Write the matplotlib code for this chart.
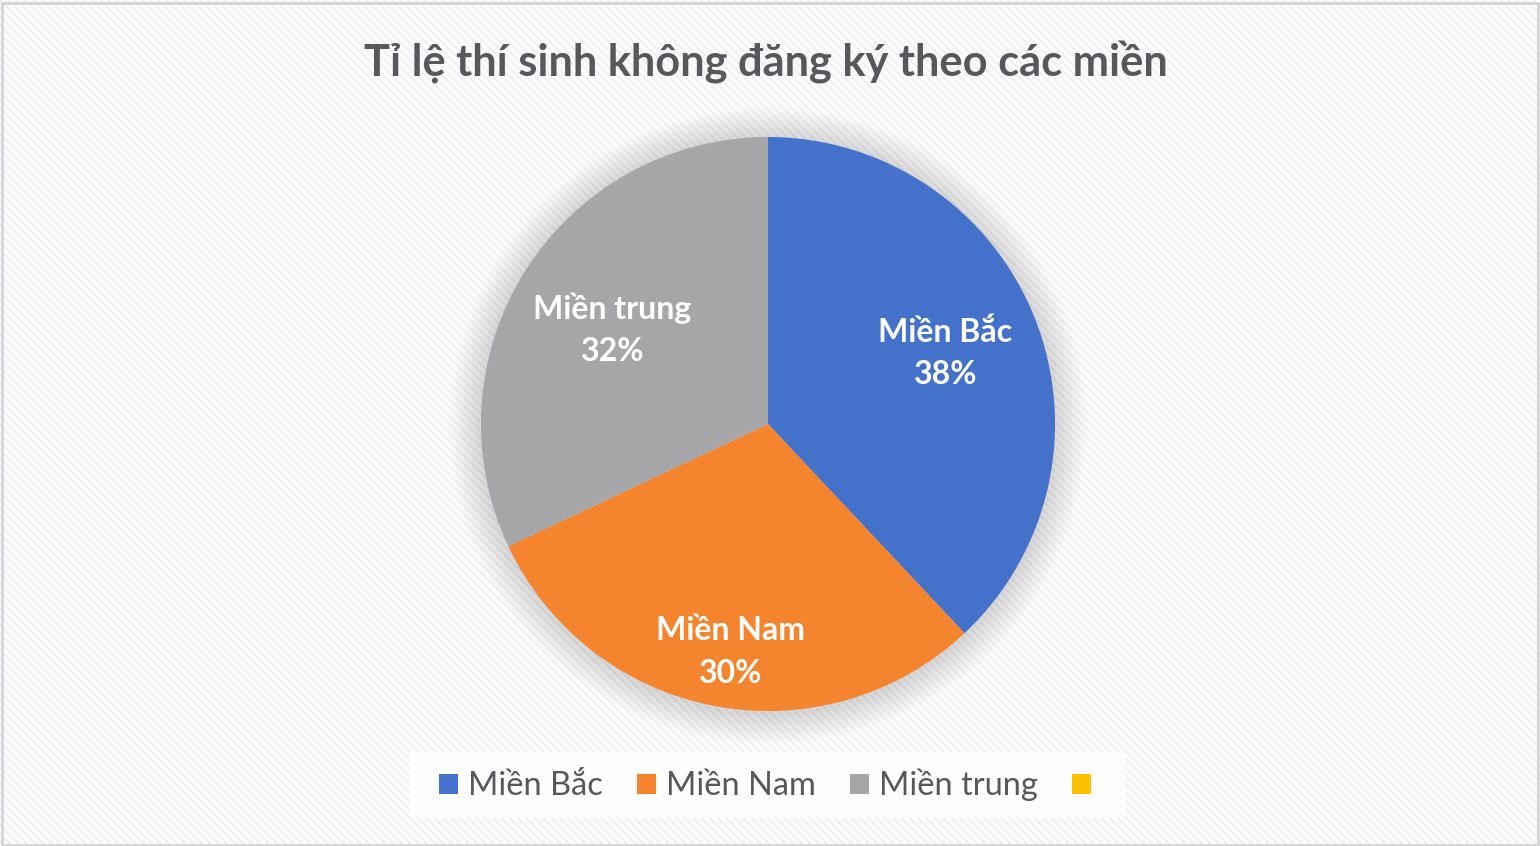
import numpy as np
import matplotlib
matplotlib.use("Agg")
import matplotlib.pyplot as plt
from matplotlib.patches import Rectangle, Circle, Patch

plt.rcParams['font.family'] = ['Lato', 'Open Sans', 'DejaVu Sans']
plt.rcParams['hatch.linewidth'] = 1.2

# data
regions = ["Miền Bắc", "Miền Nam", "Miền trung"]
shares = [38, 30, 32]
colors = ["#4472CA", "#F5842F", "#A6A5A8"]
legend_labels = ["Miền Bắc", "Miền Nam", "Miền trung", ""]
legend_colors = ["#4472CA", "#F5842F", "#A6A5A8", "#FFC000"]
title = "Tỉ lệ thí sinh không đăng ký theo các miền"

W, H = 1540, 846
fig = plt.figure(figsize=(W / 100, H / 100), dpi=100)
fig.patch.set_facecolor("#fbfbfc")

# striped background + thin border
fig.patches.append(Rectangle((0, 0), 1, 1, transform=fig.transFigure, facecolor="#fbfbfc",
                             edgecolor="#eeeef1", hatch="\\\\\\\\", lw=0, zorder=-10))
fig.patches.append(Rectangle((0.001, 0.001), 0.998, 0.996, transform=fig.transFigure, fill=False,
                             edgecolor="#d4d4d8", lw=2, zorder=-5))
# white legend box
fig.patches.append(Rectangle((410 / W, (H - 818) / H), 715 / W, 66 / H, transform=fig.transFigure,
                             facecolor="white", alpha=0.85, lw=0, zorder=-4))

# pie axes: centre (768, 424) px, radius 287 px
cx, cy, r = 768, 424, 287
ax = fig.add_axes([(cx - r) / W, (H - cy - r) / H, 2 * r / W, 2 * r / H])
ax.set_facecolor("none")

# soft shadow round the pie
for k in range(18):
    ax.add_patch(Circle((0, -0.006), 1.0 + 0.006 * (k + 1), color="#7c7c86", alpha=0.014,
                        lw=0, zorder=0, clip_on=False))

wedges, _ = ax.pie(shares, colors=colors, startangle=90, counterclock=False, radius=1,
                   wedgeprops=dict(linewidth=0, zorder=2))
ax.set_xlim(-1, 1)
ax.set_ylim(-1, 1)
ax.set_aspect("equal")
ax.axis("off")
ax.patch.set_alpha(0)

# data labels (Excel best fit: radial distance differs per slice)
label_dist = [0.665, 0.805, 0.635]
label_shift = [0, 1.4, 1.0]  # degrees
for w, name, val, d, s in zip(wedges, regions, shares, label_dist, label_shift):
    ang = np.deg2rad((w.theta1 + w.theta2) / 2 + s)
    ax.text(d * np.cos(ang), d * np.sin(ang), f"{name}\n{val}%", ha="center", va="center",
            color="white", fontsize=23, fontweight="bold", linespacing=1.55, zorder=5)

fig.text(0.4975, (H - 62) / H, title, ha="center", va="center", fontsize=31.2,
         fontweight="bold", color="#58585c")

handles = [Patch(facecolor=c, edgecolor="none") for c in legend_colors]
leg = fig.legend(handles, legend_labels, loc="center", bbox_to_anchor=(770 / W, (H - 785) / H),
                 ncol=4, frameon=False, fontsize=23.5, handlelength=0.58, handleheight=0.58,
                 handletextpad=0.3, columnspacing=1.05, borderpad=0.5, labelcolor="#58585c")

fig.savefig("out.png", dpi=100, facecolor=fig.get_facecolor())
